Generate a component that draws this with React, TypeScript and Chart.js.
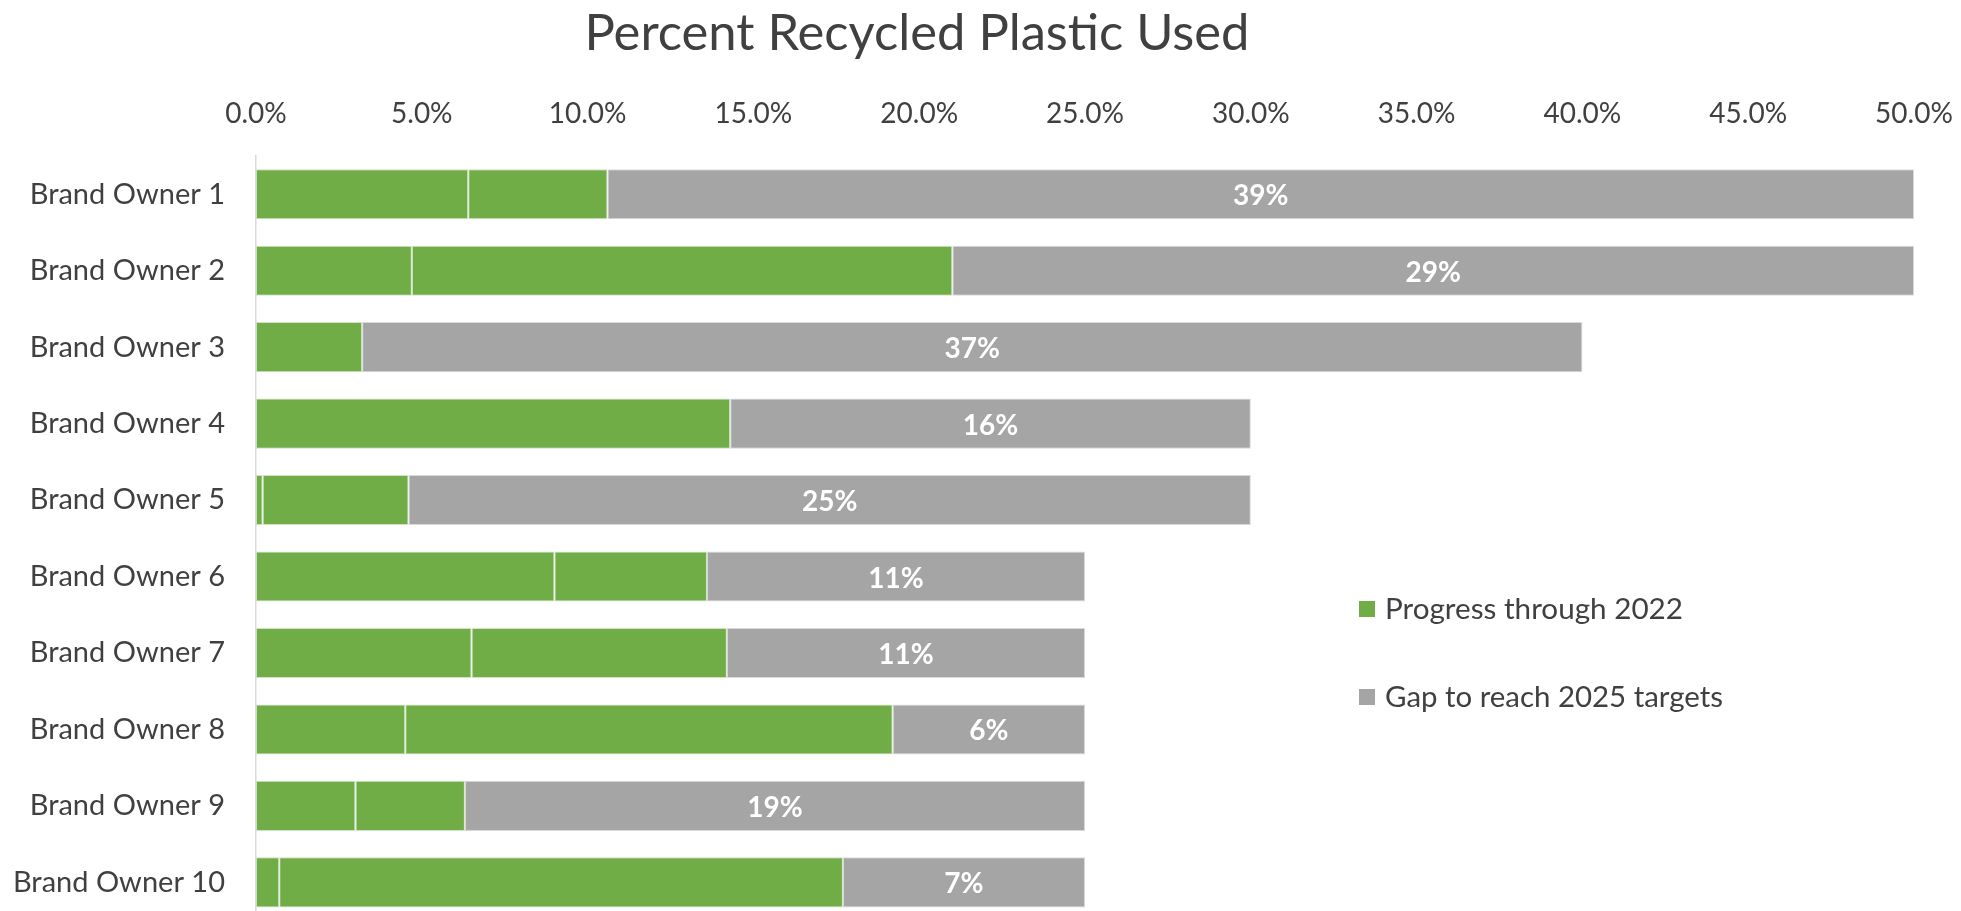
import React, { useEffect, useRef } from "react";
import { Chart, registerables } from "chart.js";

Chart.register(...registerables);

const chartTitle = "Percent Recycled Plastic Used";
const categories = [
  "Brand Owner 1",
  "Brand Owner 2",
  "Brand Owner 3",
  "Brand Owner 4",
  "Brand Owner 5",
  "Brand Owner 6",
  "Brand Owner 7",
  "Brand Owner 8",
  "Brand Owner 9",
  "Brand Owner 10",
];
// green progress, drawn as two touching segments (as in the source)
const progressEarly = [6.4, 4.7, null, null, 0.2, 9.0, 6.5, 4.5, 3.0, 0.7];
const progressLater = [4.2, 16.3, 3.2, 14.3, 4.4, 4.6, 7.7, 14.7, 3.3, 17.0];
const gapTo2025 = [39.4, 29.0, 36.8, 15.7, 25.4, 11.4, 10.8, 5.8, 18.7, 7.3];
const legendLabels = ["Progress through 2022", "Gap to reach 2025 targets"];

const GREEN = "#70AD47";
const GRAY = "#A5A5A5";
const TEXT = "#404040";
const FONT = "Lato, 'Noto Sans', sans-serif";

const overlayPlugin = {
  id: "overlay",
  afterDatasetsDraw(chart: any) {
    const ctx = chart.ctx;
    const meta = chart.getDatasetMeta(2);
    ctx.save();
    ctx.fillStyle = "#FFFFFF";
    ctx.font = `bold 28px ${FONT}`;
    ctx.textAlign = "center";
    ctx.textBaseline = "middle";
    meta.data.forEach((el: any, i: number) => {
      const v = gapTo2025[i];
      if (v == null) return;
      const cx = (el.x + el.base) / 2;
      ctx.fillText(Math.round(v) + "%", cx, el.y + 2);
    });
    ctx.restore();
  },
  afterDraw(chart: any) {
    const ctx = chart.ctx;
    ctx.save();
    ctx.fillStyle = TEXT;
    ctx.font = `50px ${FONT}`;
    ctx.textBaseline = "middle";
    ctx.textAlign = "left";
    const w = ctx.measureText(chartTitle).width;
    const targetW = 665;
    const sx = targetW / w;
    ctx.translate(917 - targetW / 2, 34);
    ctx.scale(sx, 1);
    ctx.fillText(chartTitle, 0, 0);
    ctx.restore();

    ctx.save();
    const colors = [GREEN, GRAY];
    const ys = [609, 697];
    ctx.font = `28px ${FONT}`;
    ctx.textBaseline = "middle";
    ctx.textAlign = "left";
    const widths = [298, 338];
    legendLabels.forEach((lab, i) => {
      ctx.fillStyle = colors[i];
      ctx.fillRect(1359, ys[i] - 8, 16, 16);
      ctx.fillStyle = TEXT;
      const mw = ctx.measureText(lab).width;
      ctx.save();
      ctx.translate(1385, ys[i] + 1);
      ctx.scale(widths[i] / mw, 1);
      ctx.fillText(lab, 0, 0);
      ctx.restore();
    });
    ctx.restore();
  },
};

export default function App() {
  const canvasRef = useRef<HTMLCanvasElement | null>(null);

  useEffect(() => {
    document.body.style.margin = "0";
    const canvas = canvasRef.current;
    if (!canvas) return;
    const barBorder = "rgba(210,210,210,0.85)";
    const greenBorder = "rgba(190,215,175,0.7)";
    const chart = new Chart(canvas, {
      type: "bar",
      data: {
        labels: categories,
        datasets: [
          {
            label: "Progress (earlier)",
            data: progressEarly,
            backgroundColor: GREEN,
            borderColor: greenBorder,
            borderWidth: 1,
            borderSkipped: false,
          },
          {
            label: legendLabels[0],
            data: progressLater,
            backgroundColor: GREEN,
            borderColor: greenBorder,
            borderWidth: 1,
            borderSkipped: false,
          },
          {
            label: legendLabels[1],
            data: gapTo2025,
            backgroundColor: GRAY,
            borderColor: barBorder,
            borderWidth: 1,
            borderSkipped: false,
          },
        ],
      },
      options: {
        indexAxis: "y",
        responsive: false,
        animation: false,
        devicePixelRatio: 1,
        layout: { padding: { top: 0, left: 0, right: 47, bottom: 11 } },
        datasets: {
          bar: { barPercentage: 0.655, categoryPercentage: 1 },
        },
        plugins: {
          legend: { display: false },
          title: { display: false },
          tooltip: { enabled: false },
        },
        scales: {
          x: {
            type: "linear",
            position: "top",
            stacked: true,
            min: 0,
            max: 50,
            grid: { display: false, drawTicks: false },
            border: { display: false },
            ticks: {
              stepSize: 5,
              padding: 25,
              color: TEXT,
              font: { family: FONT, size: 28 },
              callback: (v: any) => Number(v).toFixed(1) + "%",
            },
            afterFit: (scale: any) => {
              scale.height = 156;
              scale.paddingLeft = 0;
              scale.paddingRight = 0;
            },
          },
          y: {
            type: "category",
            stacked: true,
            grid: { display: false, drawTicks: false },
            border: { display: true, color: "#D9D9D9", width: 1.5 },
            ticks: {
              padding: 31,
              color: TEXT,
              font: { family: FONT, size: 29 },
            },
            afterFit: (scale: any) => {
              scale.width = 256;
            },
          },
        },
      },
      plugins: [overlayPlugin],
    });
    return () => chart.destroy();
  }, []);

  return (
    <div
      style={{
        width: 1961,
        height: 911,
        overflow: "hidden",
        position: "relative",
        background: "#FFFFFF",
      }}
    >
      <canvas ref={canvasRef} width={1961} height={969} style={{ display: "block" }} />
    </div>
  );
}
